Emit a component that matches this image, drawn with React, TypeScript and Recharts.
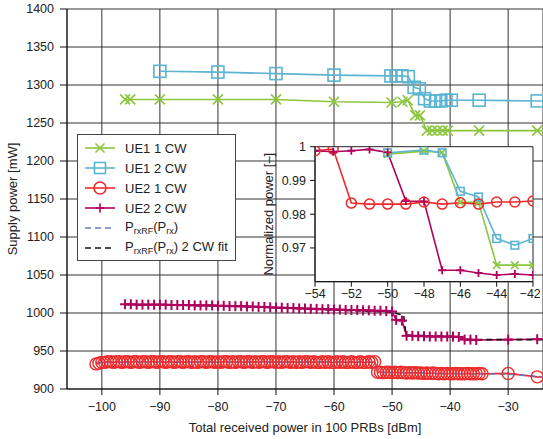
import React from "react";
import { LineChart, Line, XAxis, YAxis, CartesianGrid } from "recharts";

const FONT = '"Liberation Sans", Arial, Helvetica, sans-serif';
const GREEN = "#8cc63f";
const BLUE = "#5ab4d2";
const RED = "#ee2a2a";
const MAGENTA = "#b0005e";
const FIT_BLUE = "#6b79c9";
const FIT_BLACK = "#111111";
const TEXT = "#222222";

// ---- main chart: supply power [mW] vs total received power [dBm]
const mainXTicks = [-100, -90, -80, -70, -60, -50, -40, -30];
const mainYTicks = [900, 950, 1000, 1050, 1100, 1150, 1200, 1250, 1300, 1350, 1400];

const ue1cw1X = [-96, -95.1, -90, -80, -70, -60, -50.1, -48.2, -47.3, -46, -45.2, -44, -43.1, -42.2, -41.3, -40.4, -35, -25, -20];
const ue1cw1Y = [1281, 1281, 1281, 1281, 1281, 1278, 1277, 1278, 1280, 1260, 1260, 1240, 1240, 1240, 1240, 1240, 1240, 1240, 1240];

const ue1cw2X = [-90, -80, -70, -60, -50.2, -49.3, -48.3, -47.2, -46.2, -45.3, -44.4, -43.4, -42.5, -41.6, -40.7, -39.8, -35, -25, -20];
const ue1cw2Y = [1318, 1317, 1315, 1313, 1312, 1312, 1312, 1311, 1297, 1295, 1282, 1279, 1279, 1279, 1280, 1280, 1280, 1279, 1279];

const ue2cw1X = [
  -101, -100.5, -100, -99.5, -99, -98.5, -98, -97.5, -97, -96.5,
  -96, -95.5, -95, -94.5, -94, -93.5, -93, -92.5, -92, -91.5,
  -91, -90.5, -90, -89.5, -89, -88.5, -88, -87.5, -87, -86.5,
  -86, -85.5, -85, -84.5, -84, -83.5, -83, -82.5, -82, -81.5,
  -81, -80.5, -80, -79.5, -79, -78.5, -78, -77.5, -77, -76.5,
  -76, -75.5, -75, -74.5, -74, -73.5, -73, -72.5, -72, -71.5,
  -71, -70.5, -70, -69.5, -69, -68.5, -68, -67.5, -67, -66.5,
  -66, -65.5, -65, -64.5, -64, -63.5, -63, -62.5, -62, -61.5,
  -61, -60.5, -60, -59.5, -59, -58.5, -58, -57.5, -57, -56.5,
  -56, -55.5, -55, -54.5, -54, -53.5, -53,
  -52.5, -52, -51.5, -51, -50.5, -50, -49.5, -49, -48.5, -48,
  -47.5, -47, -46.5, -46, -45.5, -45, -44.5, -44, -43.5, -43,
  -42.5, -42, -41.5, -41, -40.5, -40, -39.5, -39, -38.5, -38,
  -37.5, -37, -36.5, -36, -35.5, -35, -34.5,
  -30, -25, -20,
];
const ue2cw1Y = [
  933, 934, 935, 935, 936, 936, 935, 936, 936, 935,
  936, 936, 935, 936, 936, 935, 936, 936, 935, 936,
  936, 935, 936, 936, 935, 936, 936, 935, 936, 936,
  935, 936, 936, 935, 936, 935, 936, 936, 935, 936,
  936, 935, 936, 935, 936, 936, 935, 936, 935, 936,
  936, 935, 936, 936, 935, 936, 935, 936, 936, 935,
  936, 936, 935, 936, 935, 936, 936, 935, 936, 935,
  936, 935, 936, 936, 935, 936, 935, 935, 936, 935,
  936, 935, 935, 936, 935, 936, 935, 935, 936, 935,
  935, 936, 935, 935, 936, 935, 936,
  922, 922, 921.5, 922, 922, 921.5, 922, 921.5, 922, 921.5,
  921, 921.5, 921, 921.5, 921, 921, 920.5, 921, 920.5, 921,
  920.5, 920, 920.5, 920, 920.5, 920, 920, 920.5, 920, 920,
  920, 920.5, 920, 920, 920, 920.5, 920,
  920.5, 916, 913,
];

const ue2cw2X = [
  -96, -95, -94, -93, -92, -91, -90, -89, -88, -87,
  -86, -85, -84, -83, -82, -81, -80, -79, -78, -77,
  -76, -75, -74, -73, -72, -71, -70, -69, -68, -67,
  -66, -65, -64, -63, -62, -61, -60, -59, -58, -57,
  -56, -55, -54, -53, -52, -51, -50,
  -49.3, -48.3,
  -47.5, -46.5, -45.5, -44.5, -43.5, -42.5, -41.5, -40.5, -39.5, -38.5, -37.5, -36.5, -35.5,
  -30, -25, -20,
];
const ue2cw2Y = [
  1011.5, 1011.5, 1011, 1011, 1011, 1011, 1011, 1011, 1010.5, 1010.5,
  1010.5, 1010.5, 1010, 1010, 1010, 1010, 1009.5, 1009.5, 1009, 1009,
  1009, 1008.5, 1008.5, 1008, 1008, 1007.5, 1007, 1007, 1006.5, 1006.5,
  1006, 1006, 1005.5, 1005.5, 1005, 1005, 1004.5, 1004.5, 1004, 1004,
  1004, 1003.5, 1003.5, 1003, 1003, 1002.5, 1002,
  991, 990,
  970, 970, 969.5, 969.5, 969, 969, 969, 969, 969, 968.5, 965, 965, 964.5,
  965, 965.5, 965.5,
];

const fit1X = [-101, -53, -52.3, -40, -30, -25, -20];
const fit1Y = [935, 935.5, 922, 920.5, 919.5, 916.5, 913];

const fit2X = [-96, -80, -70, -60, -50, -48, -47.6, -38, -37, -25, -20];
const fit2Y = [1011, 1009.5, 1007, 1004, 1001, 997, 971, 968.5, 965, 965, 965];

// ---- inset: normalized power vs received power
const insetXTicks = [-54, -52, -50, -48, -46, -44, -42];
const insetYTicks = [0.97, 0.98, 0.99, 1];

const inAllX = [-54, -53, -52, -51, -50, -49, -48, -47, -46, -45, -44, -43, -42];
const inUe2cw1Y = [0.9988, 0.9993, 0.9833, 0.983, 0.983, 0.983, 0.9836, 0.983, 0.9834, 0.983, 0.9836, 0.9836, 0.9839];
const inUe2cw2Y = [0.9988, 0.9985, 0.9988, 0.9992, 0.9983, 0.9839, 0.9838, 0.9634, 0.9634, 0.9626, 0.962, 0.9623, 0.962];

const inUe1X = [-50, -48, -47, -46, -45, -44, -43, -42];
const inUe1cw1Y = [0.9978, 0.9987, 0.9983, 0.9835, 0.9835, 0.9649, 0.9649, 0.9649];
const inUe1cw2Y = [0.9982, 0.999, 0.9982, 0.9868, 0.9851, 0.9728, 0.9708, 0.9728];

const zip = (xs: number[], ys: number[]) => xs.map((x, i) => ({ x, y: ys[i] }));

const minusFmt = (v: number) => (v < 0 ? `\u2212${-v}` : `${v}`);

type Kind = "x" | "plus" | "square" | "circle";

function Marker({ cx, cy, kind, r, color, sw }: { cx: number; cy: number; kind: Kind; r: number; color: string; sw: number }) {
  if (cx == null || cy == null || isNaN(cx) || isNaN(cy)) return null;
  const common = { stroke: color, strokeWidth: sw, fill: "none" };
  if (kind === "x")
    return (
      <g>
        <line x1={cx - r} y1={cy - r} x2={cx + r} y2={cy + r} {...common} />
        <line x1={cx - r} y1={cy + r} x2={cx + r} y2={cy - r} {...common} />
      </g>
    );
  if (kind === "plus")
    return (
      <g>
        <line x1={cx - r} y1={cy} x2={cx + r} y2={cy} {...common} />
        <line x1={cx} y1={cy - r} x2={cx} y2={cy + r} {...common} />
      </g>
    );
  if (kind === "square") return <rect x={cx - r} y={cy - r} width={2 * r} height={2 * r} {...common} />;
  return <circle cx={cx} cy={cy} r={r} {...common} />;
}

const dotOf = (kind: Kind, r: number, color: string, sw: number) => (p: any) =>
  <Marker key={`d-${p.index}`} cx={p.cx} cy={p.cy} kind={kind} r={r} color={color} sw={sw} />;

const tickStyle = { fontSize: 12.5, fill: TEXT, fontFamily: FONT };

function LegendRow({ color, kind, dashed, children }: { color: string; kind?: Kind; dashed?: boolean; children: React.ReactNode }) {
  return (
    <div style={{ height: 20, display: "flex", alignItems: "center" }}>
      <svg width={30} height={20} style={{ marginLeft: 7, marginRight: 10, flex: "none" }}>
        <line x1={0} y1={10} x2={30} y2={10} stroke={color} strokeWidth={1.6} strokeDasharray={dashed ? "6 4" : undefined} />
        {kind && <Marker cx={15} cy={10} kind={kind} r={kind === "circle" ? 6 : kind === "square" ? 5.5 : 4.5} color={color} sw={1.6} />}
      </svg>
      <span style={{ fontSize: 13, lineHeight: 1, color: TEXT, whiteSpace: "nowrap" }}>{children}</span>
    </div>
  );
}

const subStyle: React.CSSProperties = { fontSize: 9, verticalAlign: -3, lineHeight: 1 };

export default function App() {
  return (
    <div style={{ position: "absolute", left: 0, top: 0, width: 543, height: 439, fontFamily: FONT, background: "#fff" }}>
      <LineChart width={543} height={439} margin={{ top: 9, right: 0, bottom: 5, left: 0 }}>
        <CartesianGrid stroke="#333" strokeWidth={1} />
        <XAxis
          type="number"
          dataKey="x"
          domain={[-106, -24]}
          allowDataOverflow
          ticks={mainXTicks}
          tickFormatter={minusFmt}
          tick={tickStyle}
          tickSize={6}
          tickMargin={7}
          height={45}
          stroke="#111"
          label={{ value: "Total received power in 100 PRBs [dBm]", position: "insideBottom", offset: 2, style: { fontSize: 13, fill: TEXT, fontFamily: FONT } }}
        />
        <YAxis
          type="number"
          dataKey="y"
          domain={[900, 1400]}
          allowDataOverflow
          ticks={mainYTicks}
          tick={tickStyle}
          tickSize={7}
          tickMargin={6}
          width={67}
          stroke="#111"
          label={{ value: "Supply power [mW]", angle: -90, position: "insideLeft", offset: 12, style: { fontSize: 13, fill: TEXT, fontFamily: FONT, textAnchor: "middle" } }}
        />
        <Line data={zip(ue1cw1X, ue1cw1Y)} dataKey="y" stroke={GREEN} strokeWidth={1.6} dot={dotOf("x", 5, GREEN, 1.6)} isAnimationActive={false} />
        <Line data={zip(ue1cw2X, ue1cw2Y)} dataKey="y" stroke={BLUE} strokeWidth={1.6} dot={dotOf("square", 6, BLUE, 1.6)} isAnimationActive={false} />
        <Line data={zip(ue2cw1X, ue2cw1Y)} dataKey="y" stroke={RED} strokeWidth={1.6} dot={dotOf("circle", 6, RED, 1.4)} isAnimationActive={false} />
        <Line data={zip(ue2cw2X, ue2cw2Y)} dataKey="y" stroke={MAGENTA} strokeWidth={1.6} dot={dotOf("plus", 5, MAGENTA, 2)} isAnimationActive={false} />
        <Line data={zip(fit1X, fit1Y)} dataKey="y" stroke={FIT_BLUE} strokeWidth={1.6} strokeDasharray="6 4" dot={false} isAnimationActive={false} />
        <Line data={zip(fit2X, fit2Y)} dataKey="y" stroke={FIT_BLACK} strokeWidth={1.6} strokeDasharray="6 4" dot={false} isAnimationActive={false} />
      </LineChart>

      <div
        style={{
          position: "absolute",
          left: 77,
          top: 134,
          width: 159,
          height: 127,
          boxSizing: "border-box",
          background: "#fff",
          border: "1px solid #444",
          paddingTop: 3,
        }}
      >
        <LegendRow color={GREEN} kind="x">UE1 1 CW</LegendRow>
        <LegendRow color={BLUE} kind="square">UE1 2 CW</LegendRow>
        <LegendRow color={RED} kind="circle">UE2 1 CW</LegendRow>
        <LegendRow color={MAGENTA} kind="plus">UE2 2 CW</LegendRow>
        <LegendRow color={FIT_BLUE} dashed>
          P<sub style={subStyle}>rxRF</sub>(P<sub style={subStyle}>rx</sub>)
        </LegendRow>
        <LegendRow color={FIT_BLACK} dashed>
          P<sub style={subStyle}>rxRF</sub>(P<sub style={subStyle}>rx</sub>) 2 CW fit
        </LegendRow>
      </div>

      <div style={{ position: "absolute", left: 250, top: 135, width: 290, height: 175 }}>
        <LineChart width={290} height={175} margin={{ top: 11.7, right: 7, bottom: 0, left: 0 }}>
          <CartesianGrid
            fill="#fff"
            fillOpacity={1}
            stroke="#222"
            horizontalCoordinatesGenerator={({ offset }: any) => [offset.top, offset.top + offset.height]}
            verticalCoordinatesGenerator={({ offset }: any) => [offset.left, offset.left + offset.width]}
          />
          <XAxis
            type="number"
            dataKey="x"
            domain={[-54, -42]}
            allowDataOverflow
            ticks={insetXTicks}
            tickFormatter={minusFmt}
            tick={tickStyle}
            tickSize={5}
            tickMargin={2}
            height={28.3}
            stroke="#111"
          />
          <YAxis
            type="number"
            dataKey="y"
            domain={[0.96, 1]}
            allowDataOverflow
            ticks={insetYTicks}
            tick={tickStyle}
            tickSize={5}
            tickMargin={4}
            width={65}
            stroke="#111"
            label={{ value: "Normalized power [\u2013]", angle: -90, position: "insideLeft", offset: 18, style: { fontSize: 13, fill: TEXT, fontFamily: FONT, textAnchor: "middle" } }}
          />
          <Line data={zip(inUe1X, inUe1cw1Y)} dataKey="y" stroke={GREEN} strokeWidth={1.6} dot={dotOf("x", 3.8, GREEN, 1.6)} isAnimationActive={false} />
          <Line data={zip(inUe1X, inUe1cw2Y)} dataKey="y" stroke={BLUE} strokeWidth={1.6} dot={dotOf("square", 3.8, BLUE, 1.6)} isAnimationActive={false} />
          <Line data={zip(inAllX, inUe2cw1Y)} dataKey="y" stroke={RED} strokeWidth={1.6} dot={dotOf("circle", 5, RED, 1.5)} isAnimationActive={false} />
          <Line data={zip(inAllX, inUe2cw2Y)} dataKey="y" stroke={MAGENTA} strokeWidth={1.6} dot={dotOf("plus", 4, MAGENTA, 1.8)} isAnimationActive={false} />
        </LineChart>
      </div>
    </div>
  );
}
